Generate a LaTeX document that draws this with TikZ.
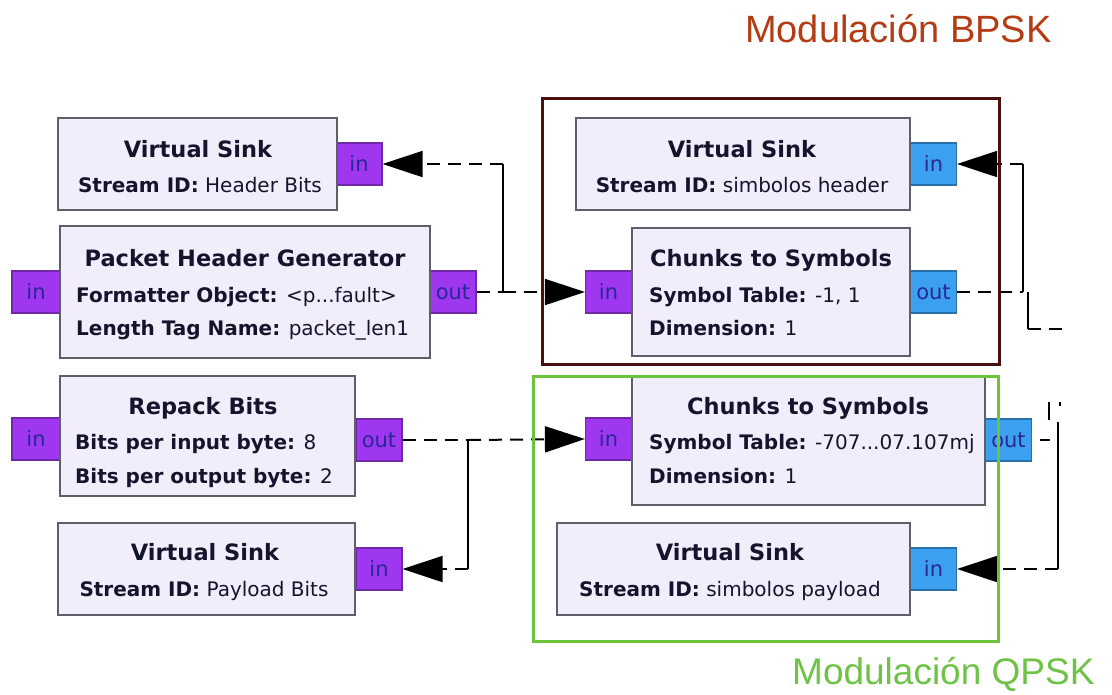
\documentclass[tikz,border=0pt]{standalone}
\usepackage{fontspec}
\setmainfont{DejaVu Sans}
\newfontfamily\titlefont{Liberation Sans}
\usetikzlibrary{arrows.meta}
\definecolor{blkfill}{RGB}{241,237,250}
\definecolor{blkborder}{RGB}{95,95,105}
\definecolor{pport}{RGB}{160,55,240}
\definecolor{bport}{RGB}{60,160,240}
\definecolor{porttext}{RGB}{40,40,150}
\definecolor{txt}{RGB}{20,20,45}
\definecolor{bframe}{RGB}{75,15,15}
\definecolor{gframe}{RGB}{110,195,60}
\definecolor{btitle}{RGB}{180,60,20}
\definecolor{gtitle}{RGB}{110,195,70}
\tikzset{
  blk/.style={draw=blkborder, fill=blkfill, line width=1.6pt, inner sep=0pt},
  portbase/.style={line width=1.2pt, inner sep=0pt, minimum width=46pt, minimum height=42pt,
    text=porttext, font=\fontsize{21}{24}\selectfont},
  purpleport/.style={portbase, draw=pport!70!black, fill=pport},
  blueport/.style={portbase, draw=bport!70!black, fill=bport},
  ttl/.style={inner sep=0pt, text=txt, font=\bfseries\fontsize{22.5}{27}\selectfont},
  prm/.style={inner sep=0pt, text=txt, font=\fontsize{20}{24}\selectfont},
  conn/.style={line width=2pt, black, dash pattern=on 13pt off 8pt},
  solidl/.style={line width=2pt, black},
  tip/.style={-{Triangle[length=40pt,width=26pt]}},
  frame/.style={line width=3pt}
}
\begin{document}
\begin{tikzpicture}[x=1pt,y=-1pt]
\useasboundingbox[fill=white] (0,0) rectangle (1112,694);

% titles
\node (bpsk) [anchor=base west, inner sep=0pt, text=btitle, font=\titlefont\fontsize{38}{44}\selectfont] at (745,42) {Modulación BPSK};
\node (qpsk) [anchor=base west, inner sep=0pt, text=gtitle, font=\titlefont\fontsize{37}{44}\selectfont] at (792,684) {Modulación QPSK};

% ports
\node (Ain) [purpleport] at (359,164) {in};
\node (Bin) [purpleport, minimum width=48pt] at (36,292) {in};
\node (Bout) [purpleport] at (453,292) {out};
\node (Cin) [purpleport, minimum width=48pt] at (36,439) {in};
\node (Cout) [purpleport] at (379,440) {out};
\node (Din) [purpleport] at (379,569) {in};
\node (Ein) [blueport] at (933.5,164) {in};
\node (Fin) [purpleport] at (608.5,292) {in};
\node (Fout) [blueport] at (933.5,292) {out};
\node (Gin) [purpleport] at (608.5,439) {in};
\node (Gout) [blueport] at (1008.5,440) {out};
\node (Hin) [blueport] at (933.5,569) {in};

% blocks
\node (A) [blk, minimum width=279pt, minimum height=92pt] at (197.5,164) {};
\node (B) [blk, minimum width=370pt, minimum height=132pt] at (245,292) {};
\node (C) [blk, minimum width=295pt, minimum height=120pt] at (207.5,436) {};
\node (D) [blk, minimum width=297pt, minimum height=92pt] at (206.5,569) {};
\node (E) [blk, minimum width=334pt, minimum height=92pt] at (743,164) {};
\node (F) [blk, minimum width=278pt, minimum height=128pt] at (771,292) {};
\node (G) [blk, minimum width=353pt, minimum height=129pt] at (808.5,440.5) {};
\node (H) [blk, minimum width=353pt, minimum height=92pt] at (733.5,569) {};

% block texts
\node (At) [ttl, anchor=base] at (198,157) {Virtual Sink};
\node (Ap) [prm, anchor=base] at (200,192) {\textbf{Stream ID:} Header Bits};
\node (Bt) [ttl, anchor=base] at (245,266) {Packet Header Generator};
\node (Bp1) [prm, anchor=base west] at (76,302) {\textbf{Formatter Object:} <p...fault>};
\node (Bp2) [prm, anchor=base west] at (76,335) {\textbf{Length Tag Name:} packet\_len1};
\node (Ct) [ttl, anchor=base] at (203,414) {Repack Bits};
\node (Cp1) [prm, anchor=base west] at (75,449) {\textbf{Bits per input byte:} 8};
\node (Cp2) [prm, anchor=base west] at (75,483) {\textbf{Bits per output byte:} 2};
\node (Dt) [ttl, anchor=base] at (205,560) {Virtual Sink};
\node (Dp) [prm, anchor=base] at (204,596) {\textbf{Stream ID:} Payload Bits};
\node (Et) [ttl, anchor=base] at (742,157) {Virtual Sink};
\node (Ep) [prm, anchor=base] at (742,192) {\textbf{Stream ID:} simbolos header};
\node (Ft) [ttl, anchor=base] at (771,266) {Chunks to Symbols};
\node (Fp1) [prm, anchor=base west] at (649,302) {\textbf{Symbol Table:} -1, 1};
\node (Fp2) [prm, anchor=base west] at (649,335) {\textbf{Dimension:} 1};
\node (Gt) [ttl, anchor=base] at (808,414) {Chunks to Symbols};
\node (Gp1) [prm, anchor=base west] at (649,449) {\textbf{Symbol Table:} -707...07.107mj};
\node (Gp2) [prm, anchor=base west] at (649,483) {\textbf{Dimension:} 1};
\node (Ht) [ttl, anchor=base] at (730,560) {Virtual Sink};
\node (Hp) [prm, anchor=base] at (730,596) {\textbf{Stream ID:} simbolos payload};

% junction coordinates
\coordinate (j1) at (503,292);
\coordinate (j2) at (503,164);
\coordinate (j3) at (1023,292);
\coordinate (j4) at (1023,164);
\coordinate (j5) at (1028,292);
\coordinate (j6) at (1028,329);
\coordinate (j7) at (1062,329);
\coordinate (j8) at (468,440);
\coordinate (j9) at (468,569);
\coordinate (j10) at (1058,422);
\coordinate (j11) at (1058,569);
\coordinate (j12) at (1058,440);
\coordinate (f1) at (1049,402);
\coordinate (f2) at (1049,420);
\coordinate (f3) at (1060,402);
\coordinate (f4) at (1060,406);

% connections
\draw[conn] (Bout.east) -- (j1);
\draw[solidl] (j1) -- (j2);
\draw[conn, tip] (j2) -- (Ain.east);
\draw[conn, tip] (j1) -- (Fin.west);

\draw[conn] (Fout.east) -- (j3);
\draw[solidl] (j3) -- (j4);
\draw[conn, tip] (j4) -- (Ein.east);
\draw[solidl] (j5) -- (j6);
\draw[conn] (j6) -- (j7);

\draw[conn] (Cout.east) -- (j8);
\draw[conn, tip] (j8) -- (Gin.west);
\draw[solidl] (j8) -- (j9);
\draw[conn, tip] (j9) -- (Din.east);

\draw[line width=2pt, black, dash pattern=on 0pt off 8pt on 10pt off 20pt] (Gout.east) -- (j12);
\draw[solidl] (j10) -- (j11);
\draw[conn, tip] (j11) -- (Hin.east);
\draw[solidl] (f1) -- (f2);
\draw[solidl] (f3) -- (f4);

% frames
\draw[frame, draw=bframe] (542,98) rectangle (999,364);
\draw[frame, draw=gframe] (533,376) rectangle (998,641);
\end{tikzpicture}
\end{document}
